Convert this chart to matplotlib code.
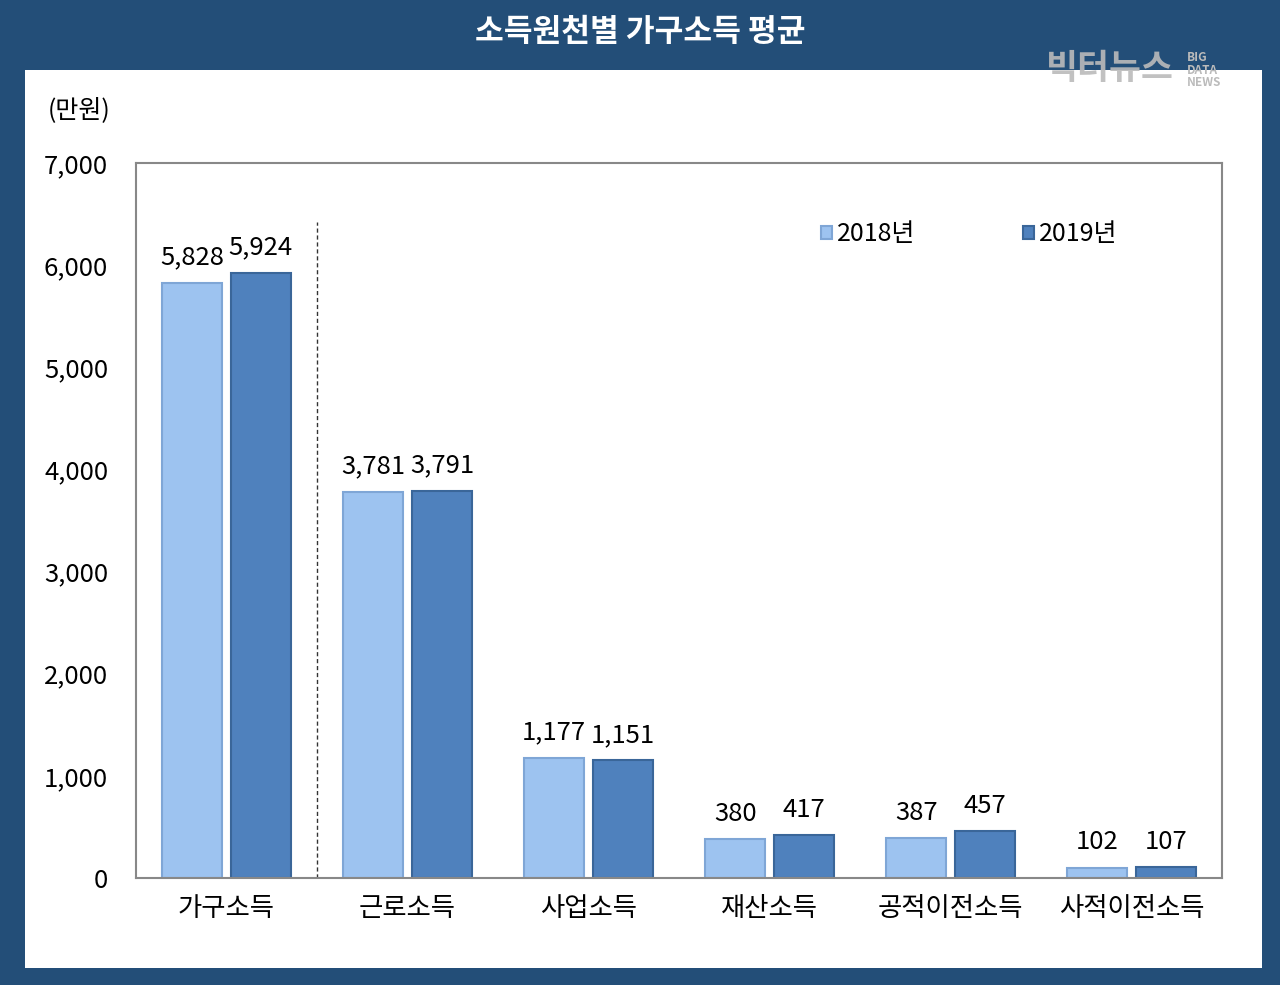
import matplotlib.pyplot as plt
import numpy as np
from matplotlib.patches import Rectangle

plt.rcParams['font.family'] = ['Noto Sans CJK KR', 'DejaVu Sans']

categories = ['가구소득', '근로소득', '사업소득', '재산소득', '공적이전소득', '사적이전소득']
income_2018 = [5828, 3781, 1177, 380, 387, 102]
income_2019 = [5924, 3791, 1151, 417, 457, 107]
series_names = ['2018년', '2019년']

navy = '#234E78'
light = '#9DC3F0'
dark = '#4F81BD'

fig = plt.figure(figsize=(12.8, 9.85), dpi=100)
fig.patch.set_facecolor(navy)

# white panel
fig.patches.append(Rectangle((25 / 1280, 1 - 968 / 985), (1262 - 25) / 1280, (968 - 70) / 985,
                             transform=fig.transFigure, facecolor='white', edgecolor='none', zorder=-5))

fig.text(0.5, 1 - 32 / 985, '소득원천별 가구소득 평균', color='white', fontsize=22.5,
         fontweight='bold', ha='center', va='center')
fig.text(1046 / 1280, 1 - 68 / 985, '빅터뉴스', color='#BBBBBB', fontsize=25,
         fontweight='bold', ha='left', va='center', alpha=0.9)
fig.text(1187 / 1280, 1 - 70 / 985, 'BIG\nDATA\nNEWS', color='#BBBBBB', fontsize=8.5,
         fontweight='bold', ha='left', va='center', linespacing=0.95)

ax = fig.add_axes([136 / 1280, 1 - 878 / 985, (1222 - 136) / 1280, (878 - 163) / 985])
ax.set_zorder(2)
ax.set_facecolor('white')

x = np.arange(len(categories)) + 0.5
w = 0.335
off = 0.19
b1 = ax.bar(x - off, income_2018, w, color=light, edgecolor='#7FA6D6', linewidth=1.5, label=series_names[0])
b2 = ax.bar(x + off, income_2019, w, color=dark, edgecolor='#3A6699', linewidth=1.5, label=series_names[1])

for xi, v in zip(x - off, income_2018):
    ax.text(xi, v + 120, f'{v:,}', ha='center', va='bottom', fontsize=18.5)
for xi, v in zip(x + off, income_2019):
    ax.text(xi, v + 120, f'{v:,}', ha='center', va='bottom', fontsize=18.5)

ax.plot([1, 1], [0, 6420], color='#333333', linestyle=(0, (3, 2)), linewidth=1)

ax.set_xlim(0, 6)
ax.set_ylim(0, 7000)
ax.set_yticks(range(0, 7001, 1000))
ax.set_yticklabels([f'{t:,}' for t in range(0, 7001, 1000)], fontsize=18.5)
ax.set_xticks(x)
ax.set_xticklabels(categories, fontsize=19)
ax.tick_params(axis='x', length=0, pad=12)
ax.tick_params(axis='y', length=0, pad=20)
for s in ax.spines.values():
    s.set_color('#888888')
    s.set_linewidth(1.5)

ax.legend(loc='upper left', bbox_to_anchor=(0.61, 0.95), ncol=2, frameon=False, fontsize=18,
          handlelength=0.45, handleheight=0.45, handletextpad=0.2, columnspacing=4.3)

fig.text(48 / 1280, 1 - 110 / 985, '(만원)', fontsize=18, ha='left', va='center')

fig.savefig('out.png', dpi=100, facecolor=navy)
